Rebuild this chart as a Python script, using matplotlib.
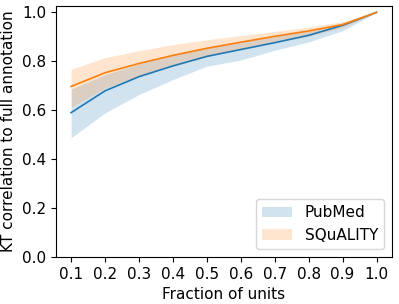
import matplotlib
matplotlib.use("Agg")
import matplotlib.pyplot as plt

fractions = [0.1, 0.2, 0.3, 0.4, 0.5, 0.6, 0.7, 0.8, 0.9, 1.0]

pubmed_mean = [0.590, 0.679, 0.737, 0.781, 0.820, 0.848, 0.876, 0.906, 0.947, 1.0]
pubmed_low = [0.487, 0.589, 0.664, 0.725, 0.780, 0.805, 0.845, 0.879, 0.925, 1.0]
pubmed_high = [0.686, 0.745, 0.790, 0.828, 0.858, 0.882, 0.903, 0.925, 0.957, 1.0]

squality_mean = [0.697, 0.753, 0.791, 0.824, 0.853, 0.878, 0.902, 0.924, 0.950, 1.0]
squality_low = [0.611, 0.690, 0.740, 0.780, 0.818, 0.848, 0.878, 0.903, 0.938, 1.0]
squality_high = [0.767, 0.815, 0.843, 0.868, 0.888, 0.905, 0.922, 0.940, 0.962, 1.0]

fig, ax = plt.subplots(figsize=(3.99, 3.04), dpi=100)
fig.subplots_adjust(left=0.140, right=0.982, top=0.980, bottom=0.155)

ax.plot(fractions, pubmed_mean, color="C0", lw=1.2)
ax.fill_between(fractions, pubmed_low, pubmed_high, color="C0", alpha=0.2, lw=0, label="PubMed")
ax.plot(fractions, squality_mean, color="C1", lw=1.2)
ax.fill_between(fractions, squality_low, squality_high, color="C1", alpha=0.2, lw=0, label="SQuALITY")

ax.set_ylim(bottom=0)
ax.set_xticks(fractions)
ax.set_xticklabels([f"{f:.1f}" for f in fractions])
ax.tick_params(labelsize=11)
ax.set_xlabel("Fraction of units", fontsize=11)
ax.set_ylabel("KT correlation to full annotation", fontsize=11)
ax.legend(loc="lower right", fontsize=11)

fig.savefig("out.png")
